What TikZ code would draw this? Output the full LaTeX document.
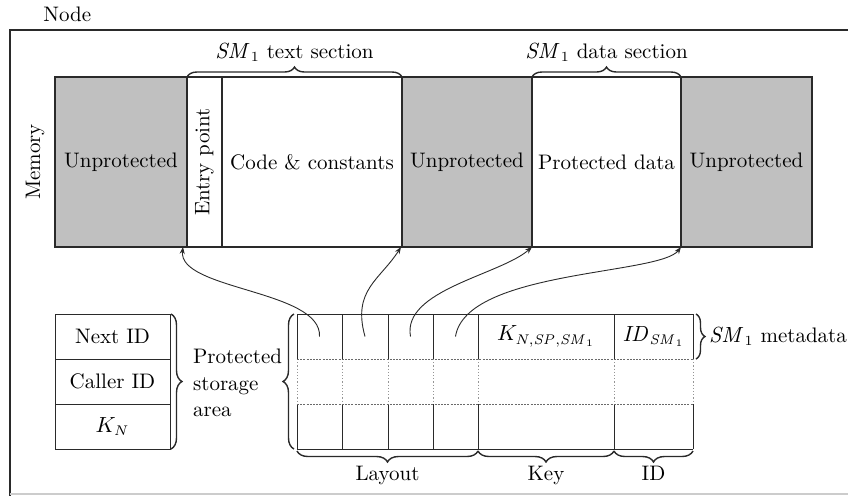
\documentclass[tikz,border=0pt]{standalone}
\usetikzlibrary{decorations.pathreplacing,arrows.meta}
\definecolor{memgray}{HTML}{C0C0C0}
\definecolor{edge}{HTML}{2A2A2A}
\begin{document}
\begin{tikzpicture}[x=0.5pt,y=-0.5pt,
  every node/.style={font=\fontsize{10.5}{13.2}\selectfont},
  seg/.style={draw=edge, line width=0.75pt, inner sep=0pt, outer sep=0pt, minimum height=85pt},
  unprot/.style={seg, fill=memgray},
  prot/.style={seg, fill=white},
  cell/.style={draw=edge, line width=0.5pt, inner sep=0pt, outer sep=0pt, minimum width=57.5pt, minimum height=22.5pt},
  slot/.style={inner sep=0pt, outer sep=0pt, minimum height=22.5pt},
  grid/.style={draw=edge, line width=0.5pt},
  gridsep/.style={draw=edge!70, line width=0.5pt, dash pattern=on 1pt off 0.6pt},
  griddot/.style={draw=edge!50, line width=0.5pt, dash pattern=on 0.6pt off 1pt},
  curly/.style={decorate, decoration={brace, amplitude=#1}, line width=0.7pt, draw=edge},
  curly/.default=5pt,
  ptr/.style={-{Stealth[length=3.5pt,width=2.6pt]}, line width=0.45pt, draw=edge}
]
\clip (0,0) rectangle (848,495);
% outer frame of the node
\draw[line width=0.75pt, draw=edge] (870,30) -- (10,30) -- (10,500);
\draw[line width=0.75pt, draw=black!20] (10,494) -- (870,494);
\node[anchor=base west, inner sep=0pt] (nodelbl) at (43,21) {Node};

% memory layout
\node[unprot, minimum width=66pt]   (u1)    at (121,162)   {Unprotected};
\node[prot,   minimum width=17.5pt] (entry) at (204.5,162) {};
\node[rotate=90] (entrylbl) at (entry.center) {Entry point};
\node[prot,   minimum width=90pt]   (code)  at (312,162)   {Code \& constants};
\node[unprot, minimum width=65pt]   (u2)    at (467,162)   {Unprotected};
\node[prot,   minimum width=74.5pt] (pdata) at (606.5,162) {Protected data};
\node[unprot, minimum width=65.5pt] (u3)    at (746.5,162) {Unprotected};
\node[rotate=90] (memlbl) at (35,162) {Memory};

% section braces
\draw[curly] (entry.north west) -- (code.north east);
\node[anchor=base] (txtsec) at (294.5,58) {$\mathit{SM}_1$ text section};
\draw[curly] (pdata.north west) -- (pdata.north east);
\node[anchor=base] (datasec) at (606.5,58) {$\mathit{SM}_1$ data section};

% protected storage area
\node[cell] (nextid)   at (112.5,336.5) {Next ID};
\node[cell] (callerid) at (112.5,381.5) {Caller ID};
\node[cell] (kn)       at (112.5,426.5) {$K_N$};
\draw[curly=5.5pt] ([xshift=0.5pt]nextid.north east) -- ([xshift=0.5pt]kn.south east);
\node[anchor=west, align=left] (storage) at (186,383) {Protected\\storage\\area};

% metadata table: first row slots
\node[slot, minimum width=22.5pt] (l1)  at (319.5,336.5) {};
\node[slot, minimum width=23pt]   (l2)  at (365,336.5)   {};
\node[slot, minimum width=22.5pt] (l3)  at (410.5,336.5) {};
\node[slot, minimum width=22.5pt] (l4)  at (455.5,336.5) {};
\node[slot, minimum width=68pt]   (key) at (546,336.5)   {$K_{N,\mathit{SP},\mathit{SM}_1}$};
\node[slot, minimum width=39.5pt] (id)  at (653.5,336.5) {$\mathit{ID}_{\mathit{SM}_1}$};

\foreach \x in {297,342,388,433,478,614,693} {
  \draw[grid] (\x,314) -- (\x,359);
  \draw[griddot] (\x,359) -- (\x,404);
  \draw[grid] (\x,404) -- (\x,449);
}
\draw[grid] (297,314) -- (693,314);
\draw[grid] (297,449) -- (693,449);
\draw[gridsep] (297,359) -- (693,359);
\draw[gridsep] (297,404) -- (693,404);

% table braces
\draw[curly=5.5pt] (294,449) -- (294,314);
\draw[curly=4.5pt] (696,314) -- (696,359);
\node[anchor=west] (metalbl) at (702,336.5) {$\mathit{SM}_1$ metadata};
\draw[curly=5.5pt] (478,451) -- (297,451);
\draw[curly=5.5pt] (614,451) -- (478,451);
\draw[curly=5.5pt] (693,451) -- (614,451);
\node[anchor=base] (layoutlbl) at (387.5,480) {Layout};
\node[anchor=base] (keylbl)    at (546,480)   {Key};
\node[anchor=base] (idlbl)     at (653.5,480) {ID};

% layout pointers into memory
\draw[ptr] (l1.center) .. controls (322,290) and (178,290) .. ([xshift=-2pt]entry.south west);
\draw[ptr] (l2.center) .. controls (352,290) and (380,280) .. ([xshift=-0.5pt]code.south east);
\draw[ptr] (l3.center) .. controls (402,290) and (500,275) .. (pdata.south west);
\draw[ptr] (l4.center) .. controls (466,270) and (660,275) .. (pdata.south east);
\end{tikzpicture}
\end{document}
